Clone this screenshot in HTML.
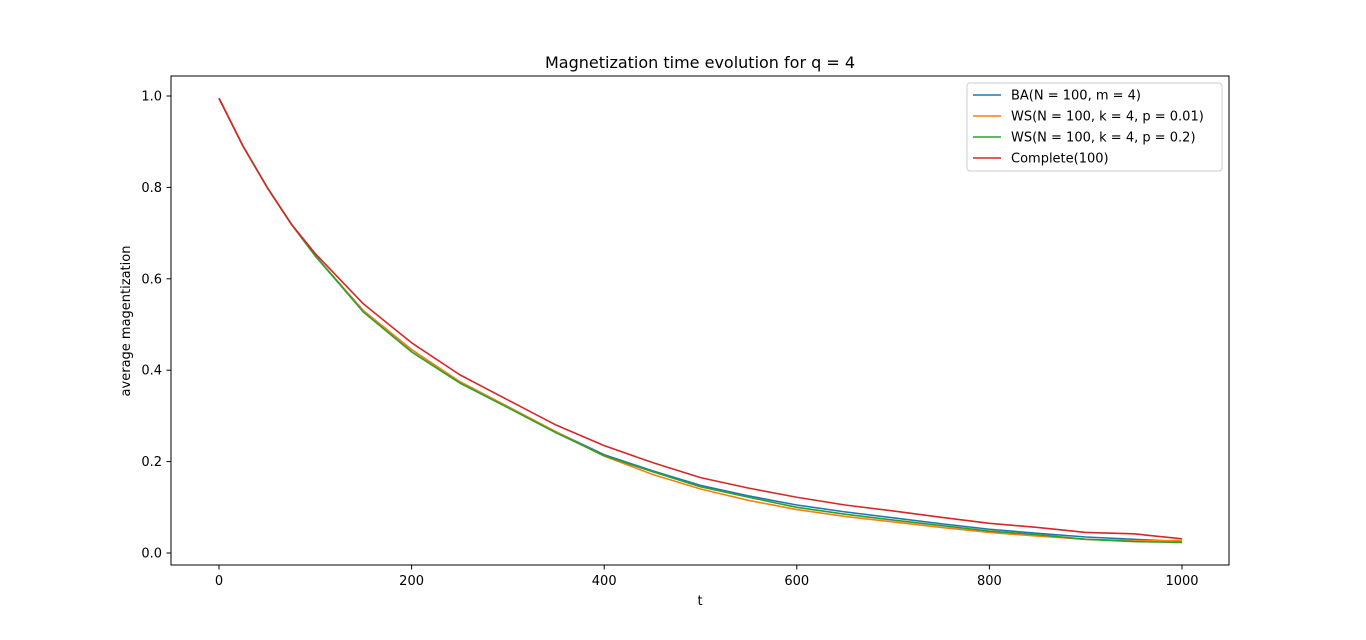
<!DOCTYPE html>
<html><head><meta charset="utf-8"><style>
body{margin:0;background:#fff;}
svg text{font-family:"DejaVu Sans","Liberation Sans",sans-serif;fill:#000;}
</style></head><body>
<svg id="chart" width="1366" height="635">
<rect x="0" y="0" width="1366" height="635" fill="#fff"/>
<text x="700" y="68" font-size="16" text-anchor="middle">Magnetization time evolution for q = 4</text>
<g id="axes"></g>
<g id="series"></g>
<rect x="171" y="76" width="1058" height="489" fill="none" stroke="#000" stroke-width="1"/>
<text x="700" y="605" font-size="13" text-anchor="middle">t</text>
<text transform="translate(130,321) rotate(-90)" font-size="13" text-anchor="middle">average magentization</text>
<g id="legend"></g>
</svg>
<script>
const tValues=[0,25,50,75,100,150,200,250,300,350,400,450,500,550,600,650,700,750,800,850,900,950,1000];
const baValues=[0.995,0.89,0.80,0.72,0.65,0.53,0.445,0.375,0.32,0.265,0.215,0.18,0.148,0.125,0.105,0.09,0.077,0.064,0.052,0.043,0.035,0.03,0.025];
const ws001Values=[0.995,0.89,0.80,0.72,0.65,0.53,0.445,0.375,0.32,0.265,0.212,0.172,0.14,0.115,0.095,0.08,0.068,0.056,0.045,0.037,0.03,0.027,0.027];
const ws02Values=[0.995,0.89,0.80,0.72,0.65,0.527,0.44,0.372,0.318,0.263,0.213,0.178,0.145,0.122,0.10,0.085,0.072,0.06,0.048,0.04,0.03,0.025,0.023];
const completeValues=[0.995,0.89,0.80,0.72,0.655,0.545,0.46,0.39,0.335,0.28,0.235,0.198,0.165,0.142,0.122,0.105,0.092,0.078,0.065,0.056,0.045,0.042,0.031];
const seriesNames=["BA(N = 100, m = 4)","WS(N = 100, k = 4, p = 0.01)","WS(N = 100, k = 4, p = 0.2)","Complete(100)"];
const xTicks=[0,200,400,600,800,1000];
const yTicks=[0.0,0.2,0.4,0.6,0.8,1.0];
const colors=["#1f77b4","#ff7f0e","#2ca02c","#d62728"];
const NS="http://www.w3.org/2000/svg";
function xs(t){return 219+t*(1182-219)/1000;}
function ys(v){return 553-v*(553-96);}
const axes=document.getElementById('axes');
xTicks.forEach(t=>{
 const l=document.createElementNS(NS,'line');
 l.setAttribute('x1',xs(t));l.setAttribute('x2',xs(t));l.setAttribute('y1',565);l.setAttribute('y2',569.5);l.setAttribute('stroke','#000');
 
 
 axes.appendChild(l);
 const tx=document.createElementNS(NS,'text');
 tx.setAttribute('x',xs(t));tx.setAttribute('y',585);tx.setAttribute('font-size','13');tx.setAttribute('text-anchor','middle');tx.textContent=t;
 
 
 axes.appendChild(tx);
});
yTicks.forEach(v=>{
 const l=document.createElementNS(NS,'line');
 l.setAttribute('x1',166.5);l.setAttribute('x2',171);l.setAttribute('y1',ys(v));l.setAttribute('y2',ys(v));l.setAttribute('stroke','#000');
 
 
 axes.appendChild(l);
 const tx=document.createElementNS(NS,'text');
 tx.setAttribute('x',162);tx.setAttribute('y',ys(v)+4.5);tx.setAttribute('font-size','13');tx.setAttribute('text-anchor','end');tx.textContent=v.toFixed(1);
 
 
 axes.appendChild(tx);
});
const all=[baValues,ws001Values,ws02Values,completeValues];
const sg=document.getElementById('series');
all.forEach((arr,i)=>{
 const p=document.createElementNS(NS,'polyline');
 p.setAttribute('points',arr.map((v,j)=>xs(tValues[j])+','+ys(v)).join(' '));
 p.setAttribute('fill','none');p.setAttribute('stroke',colors[i]);p.setAttribute('stroke-width','1.6');p.setAttribute('stroke-linejoin','round');
 
 
 sg.appendChild(p);
});
const lg=document.getElementById('legend');
const box=document.createElementNS(NS,'rect');
box.setAttribute('x',967);box.setAttribute('y',83);box.setAttribute('width',255);box.setAttribute('height',88);box.setAttribute('rx',3);
box.setAttribute('fill','#fff');box.setAttribute('stroke','#ccc');


lg.appendChild(box);
seriesNames.forEach((n,i)=>{
 const y=95+i*21;
 const l=document.createElementNS(NS,'line');
 l.setAttribute('x1',973);l.setAttribute('x2',1001);l.setAttribute('y1',y);l.setAttribute('y2',y);l.setAttribute('stroke',colors[i]);l.setAttribute('stroke-width','1.6');
 
 
 lg.appendChild(l);
 const tx=document.createElementNS(NS,'text');
 tx.setAttribute('x',1011);tx.setAttribute('y',y+4.5);tx.setAttribute('font-size','13');tx.textContent=n;
 
 
 lg.appendChild(tx);
});
</script>
</body></html>
